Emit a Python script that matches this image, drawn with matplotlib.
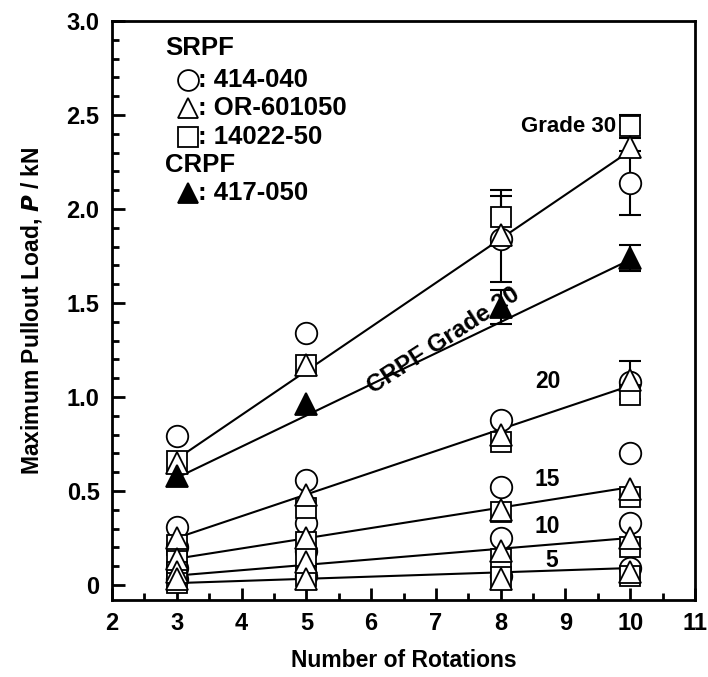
import numpy as np
import matplotlib
matplotlib.use('Agg')
import matplotlib.pyplot as plt
from matplotlib.ticker import MultipleLocator, FuncFormatter

plt.rcParams['font.family'] = ['Liberation Sans', 'DejaVu Sans']
plt.rcParams['font.weight'] = 'bold'

rotations = np.array([3, 5, 8, 10])

# SRPF 414-040 (circle), OR-601050 (triangle), 14022-50 (square); keys = grade
circ = {
    30: [0.79, 1.34, 1.84, 2.14],
    20: [0.31, 0.56, 0.88, 1.08],
    15: [0.20, 0.33, 0.52, 0.70],
    10: [0.09, 0.18, 0.25, 0.33],
    5:  [0.03, 0.05, 0.05, 0.09],
}
tri = {
    30: [0.65, 1.17, 1.86, 2.33],
    20: [0.25, 0.48, 0.80, 1.09],
    15: [0.14, 0.25, 0.40, 0.51],
    10: [0.07, 0.12, 0.18, 0.25],
    5:  [0.03, 0.03, 0.03, 0.07],
}
sq = {
    30: [0.66, 1.17, 1.96, 2.44],
    20: [0.21, 0.41, 0.76, 1.01],
    15: [0.13, 0.23, 0.39, 0.47],
    10: [0.07, 0.15, 0.14, 0.20],
    5:  [0.01, 0.05, 0.04, 0.05],
}
# CRPF 417-050, grade 20
crpf = [0.58, 0.96, 1.48, 1.74]

# error bars (x, mean, half-width)
circ_err = [(8, 1.84, 0.23), (10, 2.14, 0.17)]
sq_err = [(8, 1.96, 0.14), (10, 2.44, 0.06)]
tri_err = [(10, 1.09, 0.10)]
crpf_err = [(8, 1.48, 0.09), (10, 1.74, 0.07)]

# fitted lines: value at 3 and at 10 rotations
fit_x = [3, 10]
fit_lines = {
    '30': [0.67, 2.31],
    'CRPF': [0.57, 1.73],
    '20': [0.25, 1.06],
    '15': [0.14, 0.52],
    '10': [0.05, 0.25],
    '5': [0.01, 0.09],
}

fig = plt.figure(figsize=(7.08, 6.77), dpi=100)
ax = fig.add_axes([112 / 708, 77 / 677, 583 / 708, 579 / 677])

for key, yy in fit_lines.items():
    ax.plot(fit_x, yy, color='black', lw=1.5, zorder=2)

ms = 15.5
mew = 1.3
for g in circ:
    ax.plot(rotations, circ[g], 'o', ms=ms, mfc='white', mec='black', mew=mew, zorder=3)
for g in sq:
    ax.plot(rotations, sq[g], 's', ms=ms - 1.5, mfc='white', mec='black', mew=mew, zorder=4)
for g in tri:
    ax.plot(rotations, tri[g], '^', ms=ms + 1, mfc='white', mec='black', mew=mew, zorder=5)
ax.plot(rotations, crpf, '^', ms=ms + 1, mfc='black', mec='black', mew=mew, zorder=5)

for errs in (circ_err, sq_err, tri_err, crpf_err):
    for x, m, e in errs:
        ax.errorbar(x, m, yerr=e, fmt='none', ecolor='black', elinewidth=1.5,
                    capsize=8, capthick=1.5, zorder=2.5)

ax.set_xlim(2, 11)
ax.set_ylim(-0.08, 3.0)
ax.xaxis.set_major_locator(MultipleLocator(1))
ax.xaxis.set_minor_locator(MultipleLocator(0.5))
ax.yaxis.set_major_locator(MultipleLocator(0.5))
ax.yaxis.set_minor_locator(MultipleLocator(0.1))
ax.yaxis.set_major_formatter(FuncFormatter(lambda v, p: '0' if abs(v) < 1e-9 else '%.1f' % v))
ax.tick_params(which='both', direction='in', top=False, right=False, width=2, labelsize=17)
ax.tick_params(which='major', length=9, pad=9)
ax.tick_params(which='minor', length=5)
for s in ax.spines.values():
    s.set_linewidth(2)

ax.set_xlabel('Number of Rotations', fontsize=16.5, fontweight='bold', labelpad=10)
ax.set_ylabel('Maximum Pullout Load, $\\mathbfit{P}$ / kN', fontsize=16.5, fontweight='bold', labelpad=16)

# legend drawn by hand
tf = ax.transAxes
ax.text(0.091, 0.953, 'SRPF', transform=tf, fontsize=18.5, fontweight='bold', va='center')
rows = [(0.898, 'o', 'white', '414-040'), (0.850, '^', 'white', 'OR-601050'),
        (0.800, 's', 'white', '14022-50'), (0.703, '^', 'black', '417-050')]
for fy, mk, fc, lab in rows:
    ax.plot([0.130], [fy], mk, ms=15 if mk != 's' else 14, mfc=fc, mec='black', mew=1.3,
            transform=tf, clip_on=False)
    ax.text(0.147, fy, ': ' + lab, transform=tf, fontsize=18.5, fontweight='bold', va='center')
ax.text(0.091, 0.751, 'CRPF', transform=tf, fontsize=18.5, fontweight='bold', va='center')

ax.text(9.05, 2.44, 'Grade 30', fontsize=16, fontweight='bold', ha='center', va='center')
ax.text(7.12, 1.30, 'CRPF Grade 20', fontsize=17.5, fontweight='bold', ha='center', va='center',
        rotation=33)
for lab, xx, yy in [('20', 8.73, 1.08), ('15', 8.72, 0.56), ('10', 8.72, 0.31), ('5', 8.78, 0.13)]:
    ax.text(xx, yy, lab, fontsize=16.5, fontweight='bold', ha='center', va='center')

fig.savefig('out.png', dpi=100)
